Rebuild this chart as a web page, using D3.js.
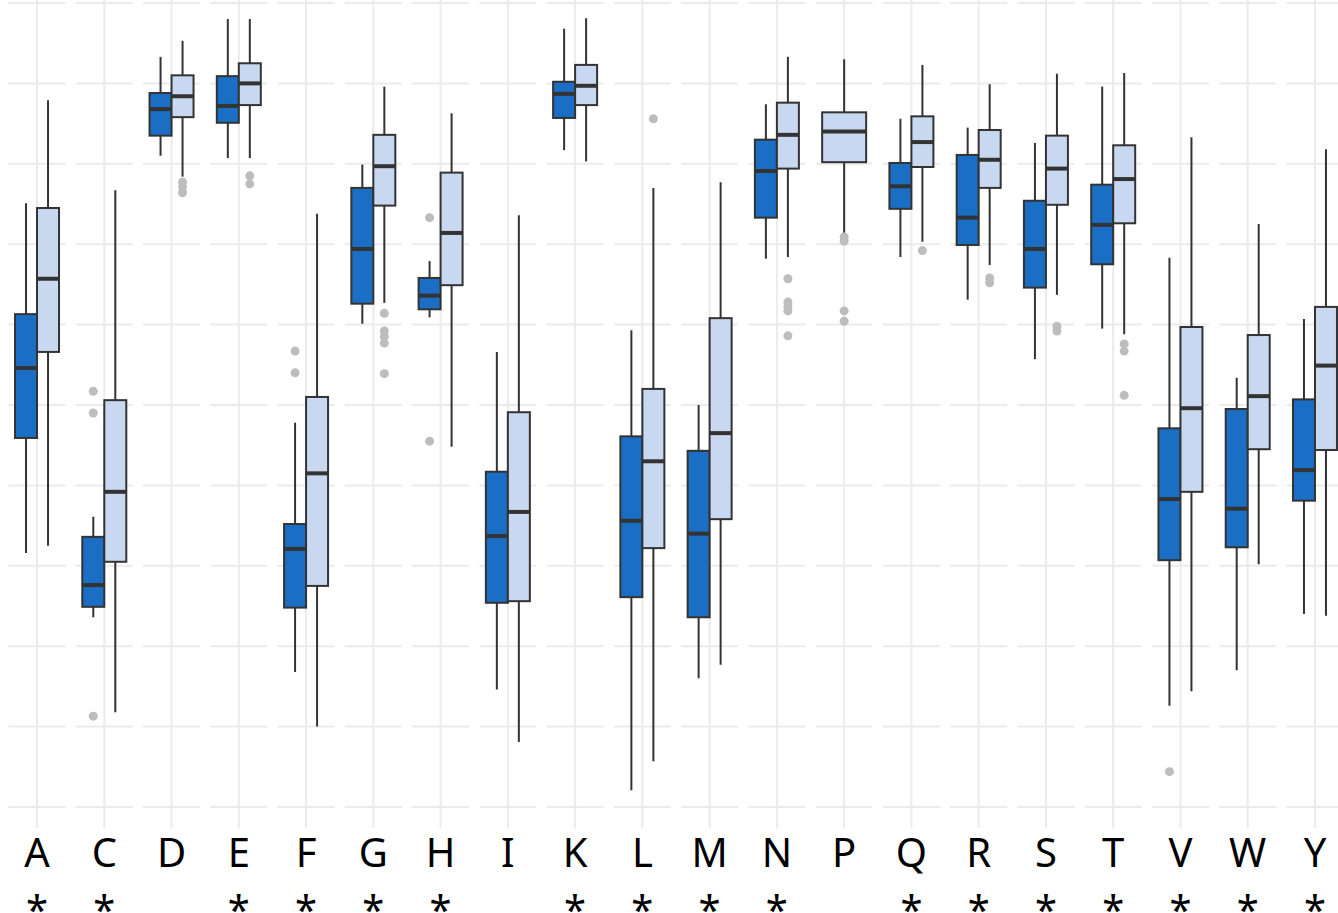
<!DOCTYPE html>
<html lang="en">
<head>
  <meta charset="UTF-8">
  <title>Boxplots by residue</title>
  <script src="https://cdn.jsdelivr.net/npm/d3@7"></script>
  <style>
    html, body { margin: 0; padding: 0; background: #fff; overflow: hidden; }
    text { font-family: "Noto Sans", "Open Sans", sans-serif; }
  </style>
</head>
<body>
  <svg id="chart"></svg>
  <script>
    // categories (one facet each) and significance marks
    const residues = ['A','C','D','E','F','G','H','I','K','L','M','N','P','Q','R','S','T','V','W','Y'];
    const signif   = [1,1,0,1,1,1,1,0,1,1,1,1,0,1,1,1,1,1,1,1];

    // boxes: [lower whisker, q1, median, q3, upper whisker]
    const groupA = [
      [3.16, 4.59, 5.46, 6.13, 7.51],
      [2.36, 2.49, 2.76, 3.36, 3.61],
      [8.10, 8.35, 8.68, 8.88, 9.33],
      [8.07, 8.51, 8.72, 9.09, 9.80],
      [1.68, 2.48, 3.21, 3.52, 4.78],
      [6.01, 6.26, 6.94, 7.70, 7.99],
      [6.09, 6.19, 6.36, 6.58, 6.79],
      [1.46, 2.54, 3.37, 4.17, 5.66],
      [8.17, 8.57, 8.87, 9.02, 9.68],
      [0.21, 2.61, 3.56, 4.61, 5.93],
      [1.60, 2.36, 3.40, 4.43, 5.00],
      [6.82, 7.33, 7.91, 8.30, 8.74],
      null,
      [6.84, 7.44, 7.72, 8.01, 8.56],
      [6.31, 6.99, 7.33, 8.11, 8.45],
      [5.57, 6.46, 6.94, 7.54, 8.26],
      [5.95, 6.75, 7.24, 7.74, 8.96],
      [1.26, 3.07, 3.83, 4.71, 6.83],
      [1.70, 3.23, 3.71, 4.95, 5.34],
      [2.40, 3.81, 4.19, 5.07, 6.07]
    ];
    const groupB = [
      [3.25, 5.66, 6.57, 7.45, 8.79],
      [1.18, 3.05, 3.92, 5.06, 7.67],
      [7.84, 8.58, 8.84, 9.10, 9.53],
      [8.07, 8.73, 9.00, 9.25, 9.80],
      [1.00, 2.75, 4.15, 5.10, 7.38],
      [6.27, 7.48, 7.97, 8.36, 8.96],
      [4.48, 6.49, 7.14, 7.89, 8.63],
      [0.81, 2.56, 3.67, 4.91, 7.36],
      [8.03, 8.73, 8.97, 9.23, 9.81],
      [0.57, 3.22, 4.30, 5.20, 7.70],
      [1.77, 3.58, 4.65, 6.08, 7.77],
      [6.84, 7.94, 8.36, 8.76, 9.33],
      [7.14, 8.02, 8.40, 8.64, 9.30],
      [7.03, 7.96, 8.27, 8.59, 9.23],
      [6.74, 7.70, 8.05, 8.42, 8.99],
      [6.37, 7.49, 7.94, 8.35, 9.12],
      [5.88, 7.26, 7.81, 8.23, 9.13],
      [1.44, 3.92, 4.96, 5.97, 8.33],
      [3.02, 4.45, 5.11, 5.87, 7.25],
      [2.38, 4.44, 5.49, 6.22, 8.18]
    ];

    // outlying points
    const outliersA = [
      [], [5.17, 4.90, 1.13], [], [], [5.67, 5.40], [], [7.33, 4.55], [], [], [],
      [], [], [], [], [], [], [], [0.44], [], []
    ];
    const outliersB = [
      [], [], [7.77, 7.71, 7.64], [7.85, 7.75], [], [6.14, 5.92, 5.85, 5.77, 5.39], [], [], [], [8.56],
      [], [6.57, 6.28, 6.22, 6.17, 5.86], [7.09, 7.04, 6.17, 6.04], [6.92], [6.58, 6.52], [5.98, 5.92], [5.76, 5.67, 5.12], [], [], []
    ];

    const gridValues = [0,1,2,3,4,5,6,7,8,9,10];
    const groups = ['a', 'b'];
    const fills = { a: '#1a6fc4', b: '#c9d8f1' };

    const width = 1338, height = 913;
    const panelBottom = 828;

    const svg = d3.select('#chart').attr('width', width).attr('height', height);

    const x = d3.scaleBand()
      .domain(residues)
      .range([3.4, 3.4 + 67.26 * residues.length])
      .paddingInner(0.1525)
      .paddingOuter(0.07625);

    const y = d3.scaleLinear()
      .domain([-0.261, 10.037])
      .range([panelBottom, 0]);

    const dodge = d3.scaleBand().domain(groups).range([-22, 22]);

    // build one row per box
    let boxes = [];
    residues.forEach((r, i) => {
      const present = [];
      if (groupA[i]) present.push({ g: 'a', s: groupA[i], out: outliersA[i] });
      if (groupB[i]) present.push({ g: 'b', s: groupB[i], out: outliersB[i] });
      const inner = present.length === 2 ? dodge : d3.scaleBand().domain([present[0].g]).range([-22, 22]);
      present.forEach(p => {
        const cx = x(r) + x.bandwidth() / 2;
        boxes.push({
          key: r, g: p.g, s: p.s, out: p.out,
          x0: cx + inner(p.g), w: inner.bandwidth()
        });
      });
    });

    // panels with grid
    const panels = svg.append('g').selectAll('g')
      .data(residues)
      .enter()
      .append('g')
      .attr('transform', d => 'translate(' + x(d) + ',0)');

    panels.selectAll('.hgrid')
      .data(gridValues)
      .enter()
      .append('line')
      .attr('class', 'hgrid')
      .attr('x1', 0)
      .attr('x2', x.bandwidth())
      .attr('y1', d => y(d))
      .attr('y2', d => y(d))
      .attr('stroke', '#ebebeb')
      .attr('stroke-width', 2);

    panels.append('line')
      .attr('x1', x.bandwidth() / 2)
      .attr('x2', x.bandwidth() / 2)
      .attr('y1', 0)
      .attr('y2', panelBottom)
      .attr('stroke', '#ebebeb')
      .attr('stroke-width', 2);

    const boxG = svg.append('g').selectAll('g')
      .data(boxes)
      .enter()
      .append('g');

    // whiskers
    boxG.append('line')
      .attr('x1', d => d.x0 + d.w / 2)
      .attr('x2', d => d.x0 + d.w / 2)
      .attr('y1', d => y(d.s[0]))
      .attr('y2', d => y(d.s[4]))
      .attr('stroke', '#333')
      .attr('stroke-width', 2);

    boxG.append('rect')
      .attr('x', d => d.x0)
      .attr('width', d => d.w)
      .attr('y', d => y(d.s[3]))
      .attr('height', d => y(d.s[1]) - y(d.s[3]))
      .attr('fill', d => fills[d.g])
      .attr('stroke', '#333')
      .attr('stroke-width', 2);

    boxG.append('line')
      .attr('x1', d => d.x0)
      .attr('x2', d => d.x0 + d.w)
      .attr('y1', d => y(d.s[2]))
      .attr('y2', d => y(d.s[2]))
      .attr('stroke', '#333')
      .attr('stroke-width', 4);

    boxG.selectAll('circle')
      .data(d => d.out.map(v => ({ v: v, cx: d.x0 + d.w / 2 })))
      .enter()
      .append('circle')
      .attr('cx', d => d.cx)
      .attr('cy', d => y(d.v))
      .attr('r', 4.5)
      .attr('fill', '#bdbdbd');

    // strip labels under the panels
    const labels = svg.append('g');
    labels.selectAll('.lab')
      .data(residues)
      .enter()
      .append('text')
      .attr('class', 'lab')
      .attr('x', d => x(d) + x.bandwidth() / 2)
      .attr('y', 867)
      .attr('text-anchor', 'middle')
      .attr('font-size', 40)
      .attr('fill', '#000')
      .text(d => d);

    labels.selectAll('.sig')
      .data(residues.filter((d, i) => signif[i]))
      .enter()
      .append('text')
      .attr('class', 'sig')
      .attr('x', d => x(d) + x.bandwidth() / 2)
      .attr('y', 924)
      .attr('text-anchor', 'middle')
      .attr('font-size', 40)
      .attr('fill', '#000')
      .text('*');
  </script>
</body>
</html>
